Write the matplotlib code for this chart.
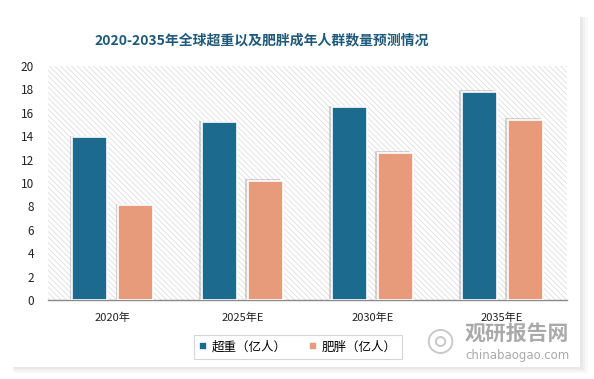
import matplotlib
matplotlib.use("Agg")
import matplotlib.pyplot as plt
import numpy as np
from matplotlib.patches import Rectangle
import matplotlib.patheffects as pe

plt.rcParams['font.family'] = ['Noto Sans CJK SC', 'DejaVu Sans']
plt.rcParams['hatch.color'] = '#d8d8d8'
plt.rcParams['hatch.linewidth'] = 0.5

title = "2020-2035年全球超重以及肥胖成年人群数量预测情况"
categories = ["2020年", "2025年E", "2030年E", "2035年E"]
overweight = [13.9, 15.2, 16.5, 17.8]
obese = [8.1, 10.2, 12.6, 15.4]
series_names = ["超重（亿人）", "肥胖（亿人）"]
yticks = [0, 2, 4, 6, 8, 10, 12, 14, 16, 18, 20]

W, H = 594, 379
fig = plt.figure(figsize=(W/100, H/100), dpi=100)
fig.patch.set_facecolor('white')

# card shadow and card
for i, a in enumerate([0.05, 0.06, 0.08]):
    d = 6 - 2*i
    fig.patches.append(Rectangle(((12 + d*0.3)/W, 1 - (367 + d)/H), (568 + d)/W, (350 + d)/H,
                                 transform=fig.transFigure, facecolor='#888888', alpha=a,
                                 edgecolor='none', zorder=0))
fig.patches.append(Rectangle((12/W, 1 - 367/H), 568/W, 350/H, transform=fig.transFigure,
                             facecolor='white', edgecolor='none', zorder=1))

ax = fig.add_axes([48/W, 1 - 300/H, (567-48)/W, (300-66)/H])
ax.set_zorder(2)
ax.patch.set_facecolor('white')
ax.add_patch(Rectangle((0, 0), 1, 1, transform=ax.transAxes, facecolor='white',
                       hatch='\\\\\\\\\\\\', edgecolor='#d8d8d8', linewidth=0, zorder=0))

x = np.arange(len(categories))
bw = 0.27
off = 0.177
shadow = [pe.SimplePatchShadow(offset=(-2, 1), shadow_rgbFace='#888888', alpha=0.35), pe.Normal()]
b1 = ax.bar(x - off, overweight, bw, color='#1c6a8e', edgecolor='white', linewidth=1.2,
            label=series_names[0], zorder=3)
b2 = ax.bar(x + off, obese, bw, color='#e89b7b', edgecolor='white', linewidth=1.2,
            label=series_names[1], zorder=3)
for b in list(b1) + list(b2):
    b.set_path_effects(shadow)

ax.set_xlim(-0.5, len(categories) - 0.5)
ax.set_ylim(0, 20)
ax.set_yticks(yticks)
ax.set_xticks(x)
ax.set_xticklabels(categories, fontsize=8, color='#222222')
ax.tick_params(axis='y', labelsize=8.5, labelcolor='#222222', length=0, pad=10)
ax.tick_params(axis='x', length=0, pad=9)
for s in ['top', 'right', 'left']:
    ax.spines[s].set_visible(False)
ax.spines['bottom'].set_color('#8a8a8a')
ax.spines['bottom'].set_linewidth(1)

fig.text(262/W, 1 - 40/H, title, ha='center', va='center', fontsize=10,
         fontweight='bold', color='#1f5a7a', zorder=5)

leg = fig.legend(handles=[b1, b2], labels=series_names, loc='center',
                 bbox_to_anchor=(298/W, 1 - 347/H), ncol=2, fontsize=9,
                 frameon=True, fancybox=False, edgecolor='#cccccc',
                 handlelength=0.6, handleheight=0.6, handletextpad=0.4,
                 columnspacing=1.8, borderpad=0.45)
leg.get_frame().set_linewidth(0.8)
leg.set_zorder(6)
for h in leg.legend_handles:
    h.set_path_effects([])

# watermark
fig.text(440/W, 1 - 340/H, "◎", ha='center', va='center', fontsize=24, color='#bbbbbb',
         alpha=0.8, zorder=7, family=['DejaVu Sans'])
fig.text(517/W, 1 - 333/H, "观研报告网", ha='center', va='center', fontsize=15,
         fontweight='bold', color='#9a9a9a', alpha=0.85, zorder=7)
fig.text(517/W, 1 - 356/H, "chinabaogao.com", ha='center', va='center', fontsize=8.5,
         color='#9a9a9a', alpha=0.85, zorder=7, family=['DejaVu Sans'])

fig.savefig("out.png", dpi=100, facecolor='white')
